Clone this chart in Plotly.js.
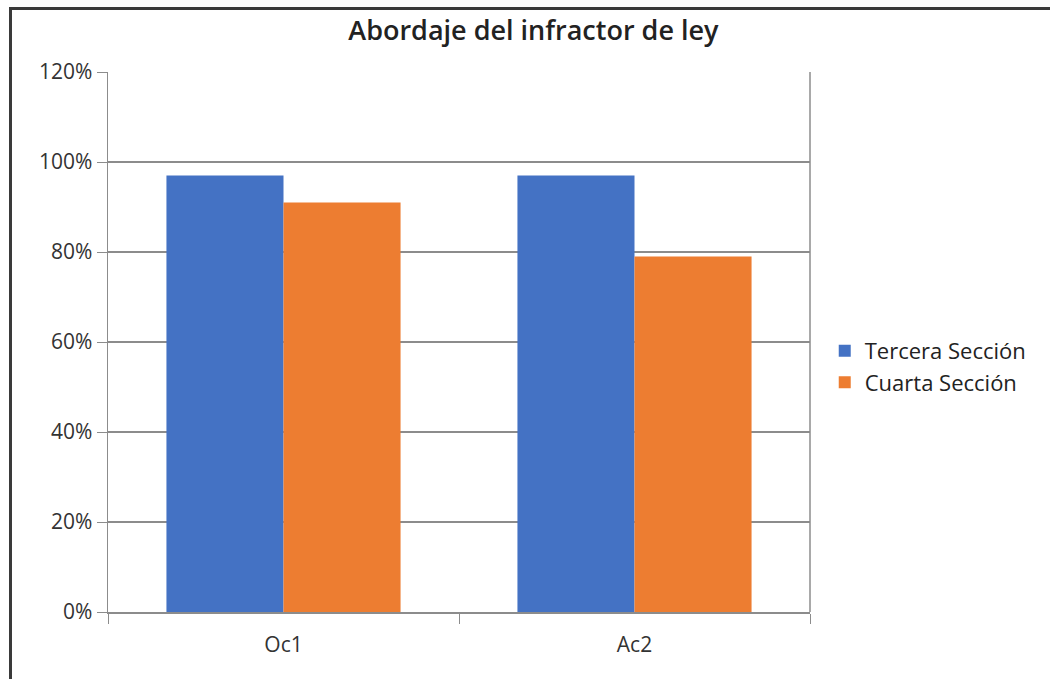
<!DOCTYPE html>
<html>
<head>
<meta charset="utf-8">
<script src="https://cdn.plot.ly/plotly-3.0.1.min.js"></script>
<style>
  html, body { margin: 0; padding: 0; background: #fff; }
  #frame { position: absolute; left: 9px; top: 7px; width: 1100px; height: 700px; border-top: 3px solid #3a3a3a; border-left: 3px solid #3a3a3a; pointer-events: none; z-index: 5; }
  #chart { width: 1050px; height: 679px; }
</style>
</head>
<body>
<div id="frame"></div>
<div id="chart"></div>
<script>
const categories = ["Oc1", "Ac2"];
const seriesNames = ["Tercera Sección", "Cuarta Sección"];
const tercera = [0.97, 0.97];
const cuarta = [0.91, 0.79];
const yTicks = [0, 0.2, 0.4, 0.6, 0.8, 1.0, 1.2];
const yTickLabels = ["0%", "20%", "40%", "60%", "80%", "100%", "120%"];

const font = "'Open Sans', Lato, sans-serif";

const traces = [
  { type: "bar", name: seriesNames[0], x: categories, y: tercera, marker: { color: "#4472C4" } },
  { type: "bar", name: seriesNames[1], x: categories, y: cuarta, marker: { color: "#ED7D31" } }
];

const layout = {
  width: 1050, height: 679,
  margin: { l: 108, r: 240, t: 72, b: 67 },
  paper_bgcolor: "#ffffff",
  plot_bgcolor: "#ffffff",
  barmode: "group",
  bargap: 0.333,
  bargroupgap: 0,
  title: { text: "Abordaje del infractor de ley", x: 0.508, xref: "container", xanchor: "center", y: 0.955, yref: "container", yanchor: "middle", font: { family: font, size: 27, weight: 600, color: "#222" } },
  font: { family: font, size: 18, color: "#333" },
  xaxis: {
    type: "category",
    showline: true, linecolor: "#8c8c8c", linewidth: 1.5,
    ticks: "outside", tickson: "boundaries", ticklen: 10, tickcolor: "#8c8c8c",
    showgrid: false, mirror: false,
    ticklabelstandoff: 13,
    tickfont: { family: font, size: 21, color: "#333" }
  },
  yaxis: {
    range: [0, 1.2],
    tickvals: yTicks, ticktext: yTickLabels,
    showline: true, linecolor: "#8c8c8c", linewidth: 1.5,
    ticks: "outside", ticklen: 10, tickcolor: "#8c8c8c",
    showgrid: true, gridcolor: "#8c8c8c", gridwidth: 1.5,
    zeroline: false, mirror: false,
    tickfont: { family: font, size: 21, color: "#333" }
  },
  shapes: [
    { type: "line", xref: "paper", yref: "paper", x0: 1, x1: 1, y0: 0, y1: 1, line: { color: "#8c8c8c", width: 1.5 } }
  ],
  legend: {
    x: 1.021, xanchor: "left", y: 0.454, yanchor: "middle",
    font: { family: font, size: 22, color: "#222" },
    itemwidth: 30, tracegroupgap: 0,
    bgcolor: "rgba(0,0,0,0)"
  },
  showlegend: true
};

Plotly.newPlot("chart", traces, layout, { staticPlot: true, displayModeBar: false });
</script>
</body>
</html>
